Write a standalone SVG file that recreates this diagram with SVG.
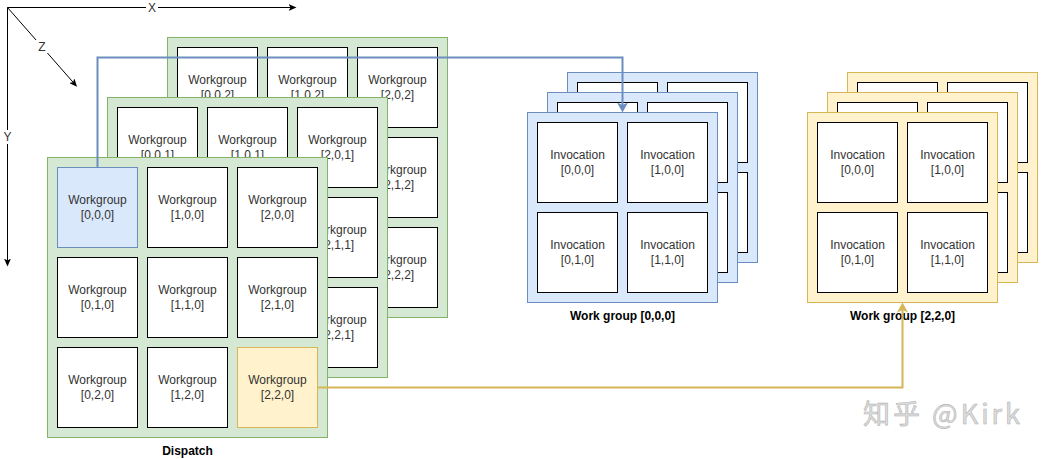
<svg xmlns="http://www.w3.org/2000/svg" width="1048" height="459" viewBox="0 0 1048 459">
<style>
.bg{fill:#ffffff}
.pg{fill:#d5e8d4;stroke:#82b366;stroke-width:1}
.pb{fill:#dae8fc;stroke:#6c8ebf;stroke-width:1}
.py{fill:#fff2cc;stroke:#d6b656;stroke-width:1}
.cell{fill:#ffffff;stroke:#000000;stroke-width:1}
.cb{fill:#dae8fc;stroke:#6c8ebf;stroke-width:1}
.cy{fill:#fff2cc;stroke:#d6b656;stroke-width:1}
.t{font-family:"Liberation Sans",Arial,Helvetica,sans-serif;font-size:12px;fill:#333333;text-anchor:middle}
.lbl{font-family:"Liberation Sans",Arial,Helvetica,sans-serif;font-size:12px;font-weight:bold;fill:#000000;text-anchor:middle}
.ax{fill:none;stroke:#000000;stroke-width:1}
.axt{font-family:"Liberation Sans",Arial,Helvetica,sans-serif;font-size:12px;fill:#333333;text-anchor:middle}
.eb{fill:none;stroke:#6c8ebf;stroke-width:2}
.ey{fill:none;stroke:#d6b656;stroke-width:2}
.wm{font-family:"Noto Sans CJK SC","Noto Sans",sans-serif;font-size:27px;fill:#dedede;stroke:#b4b4b4;stroke-width:0.6}
</style>
<defs>
<marker id="arrB" viewBox="0 0 10 11" refX="7" refY="5.5" markerWidth="10" markerHeight="11" markerUnits="userSpaceOnUse" orient="auto">
<path d="M0,0 L10,5.5 L0,11 L2.5,5.5 Z" fill="#6c8ebf"/>
</marker>
<marker id="arrY" viewBox="0 0 10 11" refX="7" refY="5.5" markerWidth="10" markerHeight="11" markerUnits="userSpaceOnUse" orient="auto">
<path d="M0,0 L10,5.5 L0,11 L2.5,5.5 Z" fill="#d6b656"/>
</marker>
<marker id="arrK" viewBox="0 0 8 7" refX="6" refY="3.5" markerWidth="8" markerHeight="7" markerUnits="userSpaceOnUse" orient="auto">
<path d="M0,0 L8,3.5 L0,7 L2,3.5 Z" fill="#000000"/>
</marker>
</defs>
<rect class="bg" x="0" y="0" width="1048" height="459"/>

<g id="axes">
<path class="ax" d="M7.5,7.5 H294.5" marker-end="url(#arrK)"/>
<path class="ax" d="M7.5,7.5 V264.5" marker-end="url(#arrK)"/>
<path class="ax" d="M7.5,7.5 L75.7,85.2" marker-end="url(#arrK)"/>
<rect x="146" y="1" width="12" height="13" fill="#ffffff"/>
<text class="axt" x="152" y="11.5">X</text>
<rect x="1" y="130" width="13" height="14" fill="#ffffff"/>
<text class="axt" x="7.5" y="141">Y</text>
<rect x="36" y="40" width="12" height="13" fill="#ffffff"/>
<text class="axt" x="42" y="51">Z</text>
</g>

<g id="dispatch-z2">
<rect class="pg" x="167.5" y="37.5" width="280" height="280"/>
<g id="wg-0-0-2"><rect class="cell" x="177.5" y="47.5" width="80" height="80"/><text class="t" x="217.5" y="83.5">Workgroup</text><text class="t" x="217.5" y="98.5">[0,0,2]</text></g>
<g id="wg-1-0-2"><rect class="cell" x="267.5" y="47.5" width="80" height="80"/><text class="t" x="307.5" y="83.5">Workgroup</text><text class="t" x="307.5" y="98.5">[1,0,2]</text></g>
<g id="wg-2-0-2"><rect class="cell" x="357.5" y="47.5" width="80" height="80"/><text class="t" x="397.5" y="83.5">Workgroup</text><text class="t" x="397.5" y="98.5">[2,0,2]</text></g>
<g id="wg-0-1-2"><rect class="cell" x="177.5" y="137.5" width="80" height="80"/><text class="t" x="217.5" y="173.5">Workgroup</text><text class="t" x="217.5" y="188.5">[0,1,2]</text></g>
<g id="wg-1-1-2"><rect class="cell" x="267.5" y="137.5" width="80" height="80"/><text class="t" x="307.5" y="173.5">Workgroup</text><text class="t" x="307.5" y="188.5">[1,1,2]</text></g>
<g id="wg-2-1-2"><rect class="cell" x="357.5" y="137.5" width="80" height="80"/><text class="t" x="397.5" y="173.5">Workgroup</text><text class="t" x="397.5" y="188.5">[2,1,2]</text></g>
<g id="wg-0-2-2"><rect class="cell" x="177.5" y="227.5" width="80" height="80"/><text class="t" x="217.5" y="263.5">Workgroup</text><text class="t" x="217.5" y="278.5">[0,2,2]</text></g>
<g id="wg-1-2-2"><rect class="cell" x="267.5" y="227.5" width="80" height="80"/><text class="t" x="307.5" y="263.5">Workgroup</text><text class="t" x="307.5" y="278.5">[1,2,2]</text></g>
<g id="wg-2-2-2"><rect class="cell" x="357.5" y="227.5" width="80" height="80"/><text class="t" x="397.5" y="263.5">Workgroup</text><text class="t" x="397.5" y="278.5">[2,2,2]</text></g>
</g>

<g id="dispatch-z1">
<rect class="pg" x="107.5" y="97.5" width="280" height="280"/>
<g id="wg-0-0-1"><rect class="cell" x="117.5" y="107.5" width="80" height="80"/><text class="t" x="157.5" y="143.5">Workgroup</text><text class="t" x="157.5" y="158.5">[0,0,1]</text></g>
<g id="wg-1-0-1"><rect class="cell" x="207.5" y="107.5" width="80" height="80"/><text class="t" x="247.5" y="143.5">Workgroup</text><text class="t" x="247.5" y="158.5">[1,0,1]</text></g>
<g id="wg-2-0-1"><rect class="cell" x="297.5" y="107.5" width="80" height="80"/><text class="t" x="337.5" y="143.5">Workgroup</text><text class="t" x="337.5" y="158.5">[2,0,1]</text></g>
<g id="wg-0-1-1"><rect class="cell" x="117.5" y="197.5" width="80" height="80"/><text class="t" x="157.5" y="233.5">Workgroup</text><text class="t" x="157.5" y="248.5">[0,1,1]</text></g>
<g id="wg-1-1-1"><rect class="cell" x="207.5" y="197.5" width="80" height="80"/><text class="t" x="247.5" y="233.5">Workgroup</text><text class="t" x="247.5" y="248.5">[1,1,1]</text></g>
<g id="wg-2-1-1"><rect class="cell" x="297.5" y="197.5" width="80" height="80"/><text class="t" x="337.5" y="233.5">Workgroup</text><text class="t" x="337.5" y="248.5">[2,1,1]</text></g>
<g id="wg-0-2-1"><rect class="cell" x="117.5" y="287.5" width="80" height="80"/><text class="t" x="157.5" y="323.5">Workgroup</text><text class="t" x="157.5" y="338.5">[0,2,1]</text></g>
<g id="wg-1-2-1"><rect class="cell" x="207.5" y="287.5" width="80" height="80"/><text class="t" x="247.5" y="323.5">Workgroup</text><text class="t" x="247.5" y="338.5">[1,2,1]</text></g>
<g id="wg-2-2-1"><rect class="cell" x="297.5" y="287.5" width="80" height="80"/><text class="t" x="337.5" y="323.5">Workgroup</text><text class="t" x="337.5" y="338.5">[2,2,1]</text></g>
</g>

<g id="dispatch-z0">
<rect class="pg" x="47.5" y="157.5" width="280" height="280"/>
<g id="wg-0-0-0"><rect class="cb" x="57.5" y="167.5" width="80" height="80"/><text class="t" x="97.5" y="203.5">Workgroup</text><text class="t" x="97.5" y="218.5">[0,0,0]</text></g>
<g id="wg-1-0-0"><rect class="cell" x="147.5" y="167.5" width="80" height="80"/><text class="t" x="187.5" y="203.5">Workgroup</text><text class="t" x="187.5" y="218.5">[1,0,0]</text></g>
<g id="wg-2-0-0"><rect class="cell" x="237.5" y="167.5" width="80" height="80"/><text class="t" x="277.5" y="203.5">Workgroup</text><text class="t" x="277.5" y="218.5">[2,0,0]</text></g>
<g id="wg-0-1-0"><rect class="cell" x="57.5" y="257.5" width="80" height="80"/><text class="t" x="97.5" y="293.5">Workgroup</text><text class="t" x="97.5" y="308.5">[0,1,0]</text></g>
<g id="wg-1-1-0"><rect class="cell" x="147.5" y="257.5" width="80" height="80"/><text class="t" x="187.5" y="293.5">Workgroup</text><text class="t" x="187.5" y="308.5">[1,1,0]</text></g>
<g id="wg-2-1-0"><rect class="cell" x="237.5" y="257.5" width="80" height="80"/><text class="t" x="277.5" y="293.5">Workgroup</text><text class="t" x="277.5" y="308.5">[2,1,0]</text></g>
<g id="wg-0-2-0"><rect class="cell" x="57.5" y="347.5" width="80" height="80"/><text class="t" x="97.5" y="383.5">Workgroup</text><text class="t" x="97.5" y="398.5">[0,2,0]</text></g>
<g id="wg-1-2-0"><rect class="cell" x="147.5" y="347.5" width="80" height="80"/><text class="t" x="187.5" y="383.5">Workgroup</text><text class="t" x="187.5" y="398.5">[1,2,0]</text></g>
<g id="wg-2-2-0"><rect class="cy" x="237.5" y="347.5" width="80" height="80"/><text class="t" x="277.5" y="383.5">Workgroup</text><text class="t" x="277.5" y="398.5">[2,2,0]</text></g>
<text class="lbl" x="187.5" y="455">Dispatch</text>
</g>

<g id="wg000-z2">
<rect class="pb" x="567.5" y="72.5" width="190" height="190"/>
<rect class="cell" x="577.5" y="82.5" width="80" height="80"/>
<rect class="cell" x="667.5" y="82.5" width="80" height="80"/>
<rect class="cell" x="577.5" y="172.5" width="80" height="80"/>
<rect class="cell" x="667.5" y="172.5" width="80" height="80"/>
</g>
<g id="wg000-z1">
<rect class="pb" x="547.5" y="92.5" width="190" height="190"/>
<rect class="cell" x="557.5" y="102.5" width="80" height="80"/>
<rect class="cell" x="647.5" y="102.5" width="80" height="80"/>
<rect class="cell" x="557.5" y="192.5" width="80" height="80"/>
<rect class="cell" x="647.5" y="192.5" width="80" height="80"/>
</g>
<g id="wg000-z0">
<rect class="pb" x="527.5" y="112.5" width="190" height="190"/>
<g id="inv-a-000"><rect class="cell" x="537.5" y="122.5" width="80" height="80"/><text class="t" x="577.5" y="159">Invocation</text><text class="t" x="577.5" y="174">[0,0,0]</text></g>
<g id="inv-a-100"><rect class="cell" x="627.5" y="122.5" width="80" height="80"/><text class="t" x="667.5" y="159">Invocation</text><text class="t" x="667.5" y="174">[1,0,0]</text></g>
<g id="inv-a-010"><rect class="cell" x="537.5" y="212.5" width="80" height="80"/><text class="t" x="577.5" y="249">Invocation</text><text class="t" x="577.5" y="264">[0,1,0]</text></g>
<g id="inv-a-110"><rect class="cell" x="627.5" y="212.5" width="80" height="80"/><text class="t" x="667.5" y="249">Invocation</text><text class="t" x="667.5" y="264">[1,1,0]</text></g>
<text class="lbl" x="622.5" y="320">Work group [0,0,0]</text>
</g>

<g id="wg220-z2">
<rect class="py" x="847.5" y="72.5" width="190" height="190"/>
<rect class="cell" x="857.5" y="82.5" width="80" height="80"/>
<rect class="cell" x="947.5" y="82.5" width="80" height="80"/>
<rect class="cell" x="857.5" y="172.5" width="80" height="80"/>
<rect class="cell" x="947.5" y="172.5" width="80" height="80"/>
</g>
<g id="wg220-z1">
<rect class="py" x="827.5" y="92.5" width="190" height="190"/>
<rect class="cell" x="837.5" y="102.5" width="80" height="80"/>
<rect class="cell" x="927.5" y="102.5" width="80" height="80"/>
<rect class="cell" x="837.5" y="192.5" width="80" height="80"/>
<rect class="cell" x="927.5" y="192.5" width="80" height="80"/>
</g>
<g id="wg220-z0">
<rect class="py" x="807.5" y="112.5" width="190" height="190"/>
<g id="inv-b-000"><rect class="cell" x="817.5" y="122.5" width="80" height="80"/><text class="t" x="857.5" y="159">Invocation</text><text class="t" x="857.5" y="174">[0,0,0]</text></g>
<g id="inv-b-100"><rect class="cell" x="907.5" y="122.5" width="80" height="80"/><text class="t" x="947.5" y="159">Invocation</text><text class="t" x="947.5" y="174">[1,0,0]</text></g>
<g id="inv-b-010"><rect class="cell" x="817.5" y="212.5" width="80" height="80"/><text class="t" x="857.5" y="249">Invocation</text><text class="t" x="857.5" y="264">[0,1,0]</text></g>
<g id="inv-b-110"><rect class="cell" x="907.5" y="212.5" width="80" height="80"/><text class="t" x="947.5" y="249">Invocation</text><text class="t" x="947.5" y="264">[1,1,0]</text></g>
<text class="lbl" x="902.5" y="320">Work group [2,2,0]</text>
</g>

<g id="connectors">
<path class="eb" d="M97.5,167.5 V57.5 H622.5 V109.5" marker-end="url(#arrB)"/>
<path class="ey" d="M317.5,387.5 H902.5 V305.5" marker-end="url(#arrY)"/>
</g>

<text class="wm" x="863" y="424" textLength="157" lengthAdjust="spacing">知乎 @Kirk</text>
</svg>
